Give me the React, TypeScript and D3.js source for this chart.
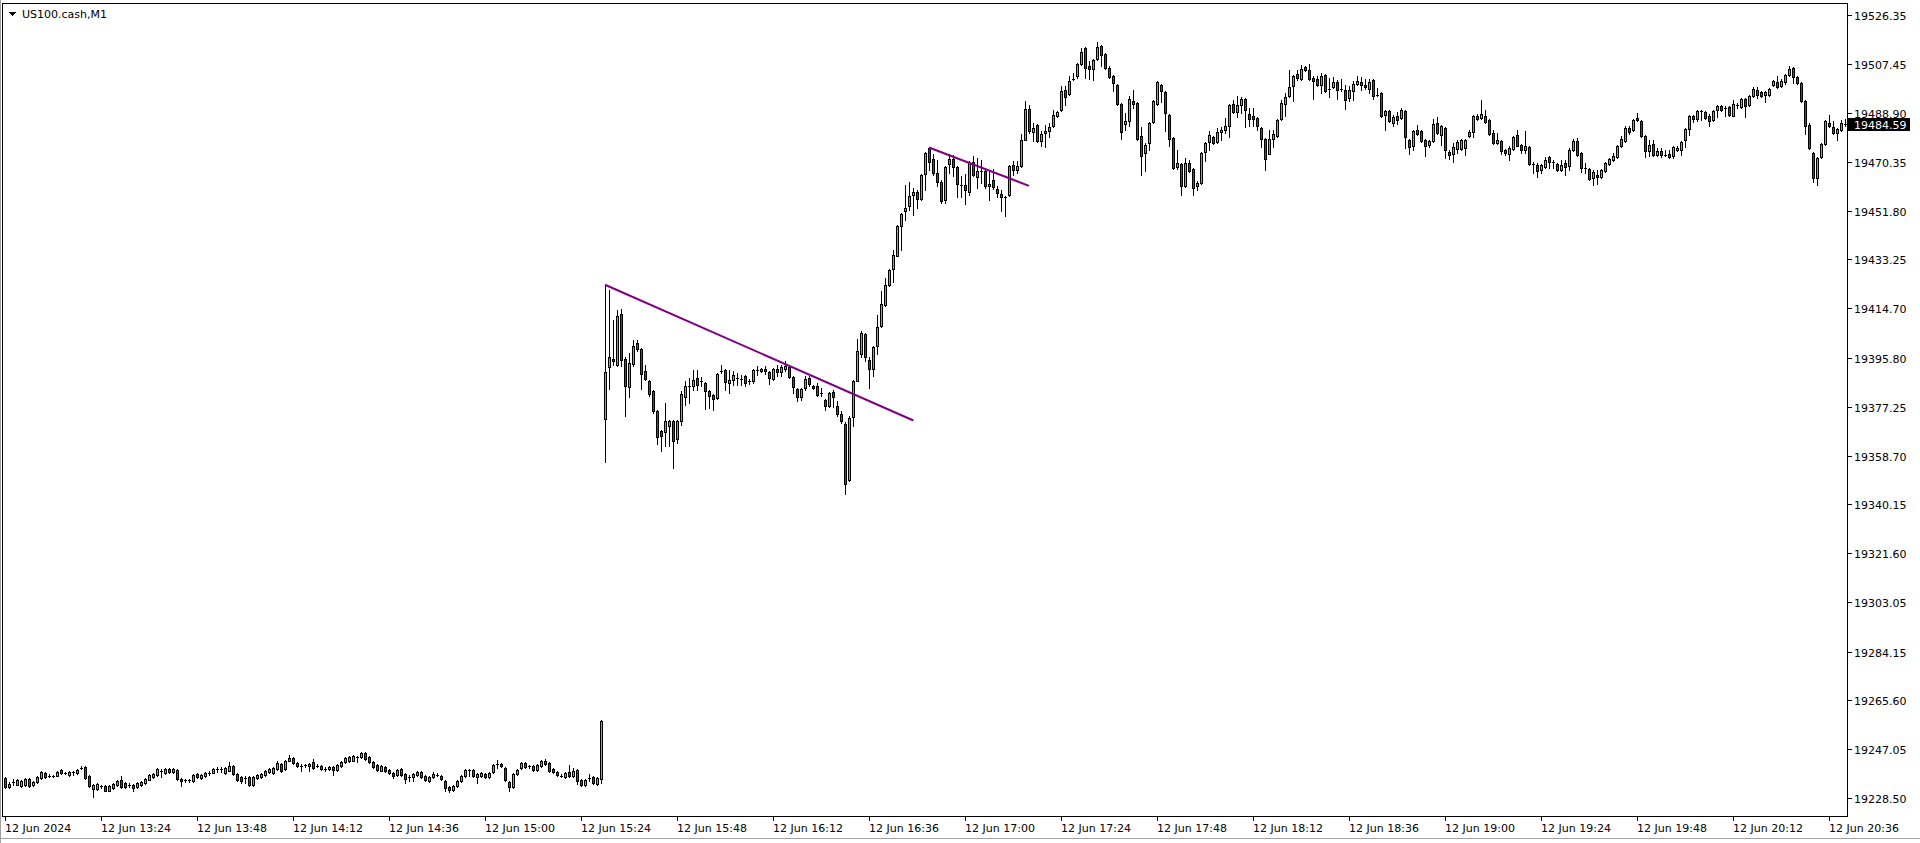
import React from 'react';
import * as d3 from 'd3';

type Bar = [number, number, number, number]; // open, high, low, close

const chartTitle = 'US100.cash,M1';
const lastPrice = 19484.59;

const priceTicks = [19526.35, 19507.45, 19488.9, 19470.35, 19451.8, 19433.25, 19414.7, 19395.8, 19377.25, 19358.7, 19340.15, 19321.6, 19303.05, 19284.15, 19265.6, 19247.05, 19228.5];

const timeLabels = ['12 Jun 2024', '12 Jun 13:24', '12 Jun 13:48', '12 Jun 14:12', '12 Jun 14:36', '12 Jun 15:00', '12 Jun 15:24', '12 Jun 15:48', '12 Jun 16:12', '12 Jun 16:36', '12 Jun 17:00', '12 Jun 17:24', '12 Jun 17:48', '12 Jun 18:12', '12 Jun 18:36', '12 Jun 19:00', '12 Jun 19:24', '12 Jun 19:48', '12 Jun 20:12', '12 Jun 20:36'];
const barsPerLabel = 24;

// 13:00 - 14:16
const earlyBars: Bar[] = [
  [19236.1,19236.6,19232.3,19232.6],[19232.8,19234.6,19232.3,19233.8],[19234.5,19235.7,19233.6,19234.3],[19233.6,19235.6,19233.3,19235.2],
  [19232.9,19235.2,19232.7,19234.8],[19233.3,19236.0,19232.9,19235.6],[19235.6,19236.0,19232.8,19233.1],[19233.3,19235.0,19232.9,19234.6],
  [19234.6,19236.7,19234.2,19236.4],[19236.1,19238.6,19235.8,19238.3],[19238.0,19238.4,19236.2,19236.6],[19236.9,19237.5,19236.5,19237.0],
  [19236.7,19237.2,19236.4,19236.9],[19237.0,19238.9,19236.7,19238.4],[19239.3,19239.6,19237.7,19238.1],[19238.0,19238.5,19237.6,19238.1],
  [19237.4,19238.6,19237.0,19238.4],[19238.3,19238.9,19237.4,19238.3],[19238.0,19239.6,19237.7,19239.3],[19239.9,19240.5,19239.5,19239.8],
  [19240.3,19240.7,19235.8,19236.1],[19236.7,19237.1,19232.6,19232.9],[19231.9,19234.0,19228.9,19233.6],[19231.9,19234.2,19231.7,19233.8],
  [19232.9,19233.6,19232.3,19232.8],[19232.9,19233.3,19231.0,19231.3],[19231.3,19233.6,19231.0,19233.2],[19232.3,19234.2,19232.0,19233.8],
  [19233.3,19235.5,19232.9,19235.1],[19235.5,19237.0,19232.3,19232.6],[19234.1,19234.5,19232.3,19232.7],[19233.6,19234.1,19232.8,19233.4],
  [19233.6,19234.0,19231.0,19232.3],[19232.6,19234.5,19232.3,19234.1],[19233.3,19234.8,19233.1,19234.5],[19234.2,19236.1,19234.0,19235.7],
  [19235.5,19237.6,19235.2,19237.2],[19236.4,19238.0,19236.1,19237.6],[19237.1,19239.9,19236.9,19239.4],[19238.6,19239.5,19236.6,19238.5],
  [19238.0,19239.9,19237.6,19239.5],[19239.6,19240.0,19237.9,19238.3],[19238.4,19240.0,19238.1,19239.6],[19239.1,19239.5,19235.5,19235.8],
  [19235.8,19236.2,19232.9,19235.1],[19235.3,19235.8,19234.7,19235.2],[19235.3,19235.8,19234.7,19235.2],[19234.8,19237.7,19234.6,19237.4],
  [19237.6,19238.0,19236.0,19236.4],[19236.1,19237.6,19235.8,19237.2],[19236.7,19238.4,19236.5,19238.0],[19237.7,19238.6,19237.4,19237.9],
  [19238.1,19239.8,19237.9,19239.4],[19239.5,19240.2,19238.3,19239.6],[19239.5,19240.2,19238.3,19239.6],[19238.0,19240.3,19237.7,19239.9],
  [19238.9,19242.3,19238.6,19240.8],[19240.7,19241.0,19237.4,19237.6],[19237.6,19238.0,19234.8,19235.3],[19236.4,19236.7,19234.2,19234.8],
  [19236.1,19236.7,19234.2,19236.0],[19236.4,19236.7,19232.9,19233.3],[19233.3,19237.0,19232.9,19236.6],[19236.1,19237.7,19235.8,19237.4],
  [19236.5,19238.1,19236.2,19237.7],[19237.1,19239.3,19236.9,19238.9],[19238.3,19239.8,19237.9,19239.4],[19238.0,19240.3,19237.7,19239.9],
  [19239.4,19242.4,19239.1,19241.8],[19241.4,19241.8,19238.5,19238.9],[19239.4,19242.9,19239.1,19242.4],[19242.7,19245.0,19242.4,19243.7],
  [19243.7,19244.1,19241.6,19241.8],[19241.8,19242.2,19240.3,19240.5],[19240.5,19241.4,19238.6,19240.4],[19240.5,19241.4,19240.3,19241.2],
  [19240.5,19241.7,19238.6,19241.4],
];

// 14:17 - 15:29
const preOpenBars: Bar[] = [
  [19242.2,19243.4,19239.6,19239.9],[19240.8,19241.4,19240.2,19240.7],[19240.8,19241.2,19239.1,19239.5],[19239.6,19240.2,19238.6,19239.6],
  [19239.6,19240.8,19239.3,19240.4],[19240.2,19240.5,19237.1,19239.3],[19239.1,19241.3,19238.8,19240.9],[19240.7,19242.6,19240.3,19242.2],
  [19242.2,19244.1,19241.8,19243.7],[19242.4,19244.3,19242.0,19243.9],[19242.7,19245.0,19242.4,19244.3],[19243.9,19244.3,19242.2,19244.1],
  [19244.2,19246.1,19243.8,19245.7],[19245.6,19246.0,19243.1,19243.4],[19243.9,19244.3,19241.8,19242.2],[19242.3,19242.7,19240.0,19240.4],
  [19241.2,19241.5,19238.8,19239.1],[19238.9,19240.9,19238.6,19240.5],[19240.2,19240.5,19238.2,19238.6],[19239.3,19239.6,19237.6,19238.0],
  [19238.0,19238.4,19236.1,19236.7],[19237.4,19239.6,19237.0,19239.3],[19239.6,19240.0,19237.0,19237.4],[19237.7,19238.1,19234.2,19235.8],
  [19236.4,19237.1,19235.1,19236.4],[19236.4,19238.0,19235.1,19237.6],[19237.4,19238.8,19237.0,19238.4],[19238.2,19238.6,19236.0,19236.4],
  [19236.9,19237.2,19235.0,19235.3],[19235.1,19236.7,19234.7,19236.4],[19236.4,19238.2,19236.0,19237.7],[19237.4,19237.9,19237.0,19237.4],
  [19236.7,19237.1,19235.2,19235.6],[19235.1,19235.5,19231.3,19232.3],[19232.6,19232.9,19230.8,19231.4],[19231.7,19233.6,19231.3,19233.2],
  [19233.2,19235.5,19232.8,19235.1],[19235.1,19237.4,19234.7,19237.0],[19237.0,19239.5,19236.6,19239.1],[19239.1,19239.5,19237.0,19239.1],
  [19239.1,19239.5,19236.4,19236.7],[19236.4,19238.1,19234.2,19237.7],[19236.7,19238.4,19236.4,19238.0],[19237.6,19238.0,19236.1,19236.5],
  [19236.6,19238.5,19236.2,19238.1],[19238.2,19241.4,19237.9,19241.0],[19241.4,19243.1,19239.9,19241.4],[19241.5,19241.9,19240.2,19240.5],
  [19239.9,19240.3,19235.1,19235.5],[19234.6,19235.0,19231.0,19232.6],[19232.6,19238.0,19232.2,19237.6],[19237.5,19239.6,19237.1,19239.3],
  [19239.9,19242.2,19239.5,19241.8],[19241.8,19242.2,19240.0,19240.4],[19240.7,19241.0,19239.9,19240.7],[19240.7,19241.0,19238.8,19239.1],
  [19239.1,19241.5,19238.8,19241.2],[19240.5,19243.1,19240.2,19242.7],[19242.7,19243.4,19241.0,19241.4],[19241.8,19242.2,19238.5,19238.9],
  [19239.6,19240.0,19237.9,19238.2],[19238.5,19238.9,19236.7,19237.1],[19237.0,19237.5,19236.4,19237.0],[19236.4,19238.4,19236.0,19238.0],
  [19238.4,19241.2,19236.6,19237.0],[19236.7,19239.9,19236.4,19238.6],[19239.1,19239.5,19233.8,19235.1],[19235.5,19235.8,19233.2,19233.6],
  [19233.6,19235.7,19233.2,19235.3],[19236.1,19237.6,19234.8,19236.1],[19236.4,19236.7,19233.8,19234.2],[19234.0,19236.5,19233.6,19236.1],
  [19235.7,19258.3,19234.1,19257.9],
];

// 15:30 - 16:41
const openingBars: Bar[] = [
  [19372.6,19423.6,19356.1,19390.4],[19392.3,19421.5,19384.0,19396.1],[19395.4,19410.3,19393.2,19394.5],[19393.0,19414.1,19392.6,19411.8],
  [19412.6,19414.4,19392.6,19395.1],[19395.4,19396.1,19373.6,19385.0],[19384.7,19397.6,19380.8,19393.8],[19393.5,19402.7,19392.6,19400.4],
  [19401.4,19402.5,19398.3,19399.2],[19399.2,19399.5,19384.0,19389.8],[19390.7,19393.2,19387.5,19387.8],[19387.1,19387.5,19381.2,19382.1],
  [19383.3,19383.7,19374.8,19375.5],[19375.7,19376.1,19363.2,19365.7],[19368.1,19368.5,19360.3,19366.0],[19367.6,19378.6,19362.2,19371.9],
  [19370.1,19372.3,19362.2,19371.9],[19371.7,19372.3,19353.9,19364.1],[19365.0,19372.3,19363.4,19371.9],[19371.7,19383.1,19370.4,19382.1],
  [19380.9,19387.1,19378.0,19385.2],[19385.1,19388.1,19378.6,19385.1],[19385.3,19391.3,19383.7,19387.5],[19388.1,19391.3,19383.7,19385.6],
  [19386.9,19388.5,19385.0,19386.8],[19386.2,19386.6,19376.4,19383.1],[19383.3,19383.7,19376.7,19381.5],[19381.8,19382.2,19376.1,19380.2],
  [19380.5,19390.0,19380.2,19389.7],[19390.7,19393.2,19390.0,19390.5],[19391.3,19391.7,19383.7,19386.7],[19386.2,19391.3,19382.4,19387.5],
  [19387.5,19390.7,19385.6,19389.3],[19388.1,19390.0,19385.6,19388.0],[19387.9,19389.4,19385.6,19387.8],[19388.8,19389.4,19385.2,19386.2],
  [19387.1,19387.8,19386.0,19386.5],[19386.9,19391.6,19386.2,19391.3],[19391.1,19392.6,19389.4,19391.0],[19390.8,19391.9,19390.3,19391.6],
  [19391.4,19392.6,19389.8,19390.7],[19390.3,19390.7,19385.9,19388.1],[19387.8,19391.9,19387.5,19391.6],[19391.6,19393.2,19388.8,19390.4],
  [19390.3,19393.2,19389.0,19392.2],[19391.6,19394.5,19390.7,19392.6],[19392.3,19392.7,19388.1,19388.5],[19388.5,19388.9,19382.4,19384.6],
  [19384.1,19384.5,19379.3,19380.8],[19380.8,19384.3,19379.9,19384.0],[19384.3,19388.8,19383.7,19387.9],[19388.3,19388.8,19385.0,19385.9],
  [19385.2,19385.6,19384.0,19384.3],[19385.0,19386.2,19381.4,19381.8],[19382.5,19384.3,19381.4,19382.4],[19379.9,19380.3,19376.1,19377.6],
  [19377.4,19382.8,19377.0,19382.4],[19382.8,19383.7,19377.1,19380.8],[19377.4,19379.3,19373.6,19374.5],[19374.5,19375.5,19371.0,19371.7],
  [19370.8,19371.3,19344.2,19347.8],[19349.5,19373.6,19349.1,19372.9],[19373.3,19387.5,19369.8,19387.2],[19387.1,19403.0,19386.9,19398.5],
  [19397.1,19405.9,19396.1,19405.2],[19404.9,19405.2,19394.5,19396.1],[19395.1,19396.1,19384.3,19391.7],[19391.7,19400.4,19388.8,19399.8],
  [19400.4,19412.2,19397.4,19407.5],[19407.8,19421.1,19407.5,19416.3],[19416.0,19426.1,19415.6,19423.6],[19423.6,19429.6,19423.2,19429.3],
];

// 16:42 - 18:03
const rallyBars: Bar[] = [
  [19429.6,19436.9,19424.5,19435.0],[19434.6,19446.4,19434.4,19446.0],[19446.0,19450.9,19436.7,19450.5],[19451.5,19461.6,19448.3,19452.8],
  [19453.4,19462.6,19452.1,19457.2],[19457.6,19460.4,19450.2,19458.8],[19458.8,19459.5,19452.8,19456.2],[19456.2,19465.8,19455.9,19465.4],
  [19465.8,19474.0,19459.7,19473.7],[19475.6,19475.9,19467.3,19470.2],[19471.5,19473.4,19465.4,19466.1],[19466.1,19470.9,19461.0,19462.6],
  [19462.6,19463.5,19454.7,19455.3],[19455.7,19468.6,19454.7,19468.2],[19469.5,19473.4,19466.1,19471.5],[19471.5,19473.0,19464.8,19468.2],
  [19468.3,19468.9,19456.9,19462.0],[19461.7,19464.8,19456.9,19461.6],[19461.6,19465.8,19454.4,19459.7],[19458.8,19470.5,19457.8,19469.9],
  [19470.1,19472.7,19464.8,19465.2],[19464.4,19471.8,19460.4,19467.0],[19466.9,19471.1,19462.3,19466.7],[19466.7,19468.0,19460.4,19461.0],
  [19461.0,19466.7,19455.9,19461.9],[19463.5,19467.6,19460.0,19460.7],[19460.0,19461.0,19456.9,19458.5],[19458.2,19459.7,19451.5,19456.9],
  [19456.9,19457.4,19449.6,19456.6],[19457.6,19469.2,19457.2,19468.9],[19469.2,19470.5,19465.4,19467.3],[19467.1,19470.5,19466.1,19468.6],
  [19468.6,19481.0,19468.3,19478.7],[19478.7,19493.3,19478.5,19490.4],[19490.4,19492.0,19481.3,19481.9],[19481.6,19485.1,19478.1,19483.2],
  [19484.2,19484.7,19477.7,19478.1],[19478.4,19481.9,19476.5,19481.0],[19481.3,19484.4,19475.9,19482.2],[19481.9,19485.1,19479.7,19483.4],
  [19483.8,19490.1,19483.5,19488.2],[19487.6,19489.7,19487.2,19489.2],[19489.9,19499.3,19489.6,19497.1],[19497.7,19499.3,19492.0,19494.9],
  [19496.0,19502.8,19495.6,19501.2],[19501.6,19504.1,19501.3,19501.9],[19502.8,19507.9,19502.4,19507.5],[19507.5,19513.6,19507.1,19512.1],
  [19513.6,19514.0,19502.2,19506.0],[19506.9,19508.5,19501.9,19505.6],[19505.6,19509.4,19501.3,19509.1],[19509.4,19515.9,19508.9,19514.0],
  [19514.5,19514.8,19506.9,19511.0],[19511.4,19511.9,19505.6,19506.0],[19506.2,19506.6,19502.2,19502.5],[19502.8,19503.2,19497.1,19500.3],
  [19499.6,19500.0,19492.0,19492.4],[19492.4,19492.8,19479.0,19481.5],[19484.7,19488.9,19482.5,19486.0],[19485.7,19495.2,19483.8,19494.2],
  [19493.6,19497.7,19490.8,19492.4],[19492.7,19493.1,19478.5,19479.0],[19480.0,19483.5,19465.4,19472.4],[19473.7,19477.5,19466.7,19476.8],
  [19477.5,19485.4,19474.7,19485.1],[19485.3,19493.7,19485.1,19493.3],[19492.4,19500.9,19492.0,19500.5],[19499.6,19500.0,19492.9,19497.1],
  [19496.9,19497.2,19482.2,19488.9],[19488.2,19488.6,19476.2,19479.0],[19479.4,19479.7,19467.6,19468.0],[19468.2,19474.7,19467.8,19469.9],
  [19469.6,19470.0,19457.8,19461.2],[19461.0,19471.8,19460.6,19469.9],[19469.9,19471.1,19466.3,19466.7],[19467.6,19468.0,19457.8,19460.4],
  [19461.0,19462.9,19459.5,19462.3],[19462.3,19474.0,19461.9,19473.7],[19473.9,19477.8,19470.5,19477.5],[19477.7,19481.9,19474.9,19480.6],
  [19479.7,19480.3,19477.1,19477.5],[19477.7,19483.2,19477.5,19481.5],
];

// 18:04 - 20:40
const eveningBars: Bar[] = [
  [19481.5,19483.5,19478.7,19482.3],[19482.3,19487.0,19481.3,19484.1],[19483.8,19492.3,19479.6,19492.0],[19492.4,19493.9,19488.9,19489.4],
  [19489.1,19495.2,19487.4,19492.0],[19491.8,19495.0,19488.9,19494.3],[19494.3,19494.6,19483.4,19489.9],[19488.5,19490.8,19484.1,19486.7],
  [19487.9,19490.8,19484.1,19486.7],[19487.0,19487.4,19482.3,19483.8],[19483.2,19483.5,19475.9,19479.0],[19479.0,19479.4,19467.1,19471.4],
  [19473.5,19482.5,19473.3,19479.1],[19479.2,19482.5,19475.9,19480.9],[19480.0,19486.7,19479.8,19486.3],[19486.6,19493.9,19486.3,19492.7],
  [19492.4,19496.5,19487.6,19495.0],[19495.2,19505.3,19495.0,19498.9],[19499.0,19503.4,19493.3,19503.1],[19503.8,19505.3,19501.5,19502.4],
  [19501.8,19507.2,19501.5,19505.6],[19506.4,19506.9,19504.7,19505.1],[19505.3,19507.6,19501.5,19501.8],[19502.2,19503.1,19494.2,19500.9],
  [19501.8,19503.1,19499.3,19499.6],[19499.6,19504.1,19496.5,19503.1],[19503.4,19503.8,19496.7,19497.1],[19497.8,19502.2,19495.0,19498.1],
  [19498.8,19502.6,19498.4,19500.7],[19500.7,19501.3,19494.2,19497.7],[19497.7,19501.8,19497.1,19498.1],[19497.7,19499.6,19490.4,19493.9],
  [19494.6,19499.0,19493.3,19497.7],[19497.1,19500.9,19493.9,19500.0],[19499.9,19503.1,19499.5,19501.2],[19500.7,19502.6,19497.5,19499.6],
  [19499.6,19501.8,19498.2,19498.6],[19498.0,19501.8,19496.5,19500.5],[19501.3,19501.7,19494.2,19495.2],[19495.2,19498.4,19495.2,19495.8],
  [19496.5,19496.9,19487.2,19487.6],[19488.0,19490.1,19482.3,19489.8],[19489.8,19490.1,19485.3,19485.7],[19485.1,19488.2,19483.8,19487.4],
  [19487.9,19489.1,19484.7,19486.3],[19487.0,19490.8,19486.6,19490.1],[19489.8,19490.1,19475.6,19479.6],[19478.7,19479.1,19473.3,19475.9],
  [19476.2,19482.5,19474.9,19482.2],[19482.5,19484.4,19480.4,19480.9],[19482.2,19482.5,19477.7,19478.1],[19478.5,19479.0,19472.7,19476.5],
  [19476.8,19478.7,19475.9,19478.1],[19478.1,19486.6,19477.7,19484.8],[19485.1,19487.4,19480.9,19481.3],[19480.4,19484.4,19476.8,19484.1],
  [19483.2,19483.5,19471.8,19474.7],[19474.0,19474.9,19471.5,19472.8],[19473.3,19477.5,19470.1,19475.9],[19475.2,19478.7,19473.7,19477.7],
  [19475.3,19479.1,19474.9,19478.7],[19475.6,19479.1,19473.0,19478.7],[19480.0,19482.5,19479.6,19481.6],[19481.6,19488.2,19479.6,19487.9],
  [19487.9,19488.6,19486.3,19486.8],[19487.0,19493.9,19486.6,19488.6],[19487.9,19490.1,19485.1,19485.4],[19486.3,19486.7,19480.6,19480.9],
  [19481.3,19482.5,19477.1,19477.5],[19477.5,19481.3,19477.1,19478.7],[19478.1,19478.5,19473.4,19474.3],[19474.9,19475.3,19473.0,19473.7],
  [19473.3,19476.2,19471.1,19475.6],[19475.2,19480.3,19474.9,19479.8],[19480.6,19482.5,19476.2,19476.5],[19476.8,19477.2,19473.7,19474.7],
  [19474.9,19481.9,19473.7,19476.5],[19475.9,19476.5,19469.2,19469.5],[19469.4,19470.1,19466.1,19469.0],[19469.2,19469.9,19464.5,19466.7],
  [19467.1,19469.6,19466.1,19469.2],[19468.3,19472.1,19468.0,19471.1],[19472.0,19472.7,19468.0,19470.2],[19470.2,19471.1,19468.0,19470.0],
  [19469.6,19470.0,19466.7,19467.3],[19467.3,19471.1,19466.7,19469.0],[19469.9,19471.1,19465.4,19468.3],[19468.6,19475.6,19467.3,19474.9],
  [19474.7,19479.0,19474.3,19478.1],[19478.4,19479.4,19472.7,19473.0],[19473.7,19474.0,19466.3,19468.0],[19468.0,19469.9,19466.1,19467.8],
  [19467.6,19468.0,19463.5,19463.8],[19464.2,19467.1,19461.6,19466.3],[19465.4,19467.3,19462.0,19464.5],[19464.5,19467.6,19464.2,19467.3],
  [19466.7,19470.2,19466.3,19469.9],[19469.5,19471.8,19469.1,19471.4],[19470.9,19473.7,19470.5,19472.4],[19472.1,19476.8,19471.8,19476.5],
  [19476.2,19480.0,19475.8,19479.0],[19478.1,19484.1,19477.7,19483.2],[19483.2,19484.1,19481.1,19481.5],[19482.5,19486.7,19482.2,19486.3],
  [19487.0,19488.9,19485.7,19486.1],[19486.0,19486.3,19479.6,19480.0],[19480.3,19480.6,19472.1,19474.3],[19474.3,19478.7,19472.4,19476.8],
  [19477.1,19478.7,19472.4,19472.8],[19473.0,19475.6,19472.4,19474.6],[19474.6,19475.6,19472.1,19472.8],[19472.8,19474.9,19472.4,19473.0],
  [19473.3,19474.9,19471.8,19472.0],[19472.4,19476.2,19471.8,19475.8],[19474.7,19476.5,19474.3,19475.6],[19474.7,19478.1,19473.0,19477.7],
  [19478.5,19483.2,19475.9,19482.8],[19482.8,19488.2,19480.6,19487.9],[19487.9,19488.2,19485.3,19486.6],[19486.6,19490.1,19485.7,19489.8],
  [19489.8,19490.1,19486.3,19489.4],[19489.1,19489.5,19486.6,19487.0],[19487.6,19488.6,19484.1,19485.7],[19486.3,19489.9,19486.0,19489.5],
  [19489.9,19492.0,19487.4,19491.7],[19491.4,19491.8,19489.5,19489.9],[19490.6,19491.4,19487.6,19490.8],[19491.0,19491.4,19487.9,19488.2],
  [19487.9,19493.9,19487.6,19492.3],[19492.0,19492.7,19490.8,19491.9],[19491.2,19494.7,19490.8,19494.3],[19494.3,19494.7,19487.4,19491.7],
  [19492.0,19495.6,19491.7,19495.2],[19495.2,19498.6,19494.8,19498.1],[19497.7,19498.6,19494.6,19495.8],[19496.7,19497.1,19494.8,19495.2],
  [19495.6,19497.1,19492.9,19496.7],[19495.8,19498.4,19495.5,19498.0],[19499.4,19501.3,19499.0,19500.9],[19500.5,19503.1,19498.4,19498.8],
  [19499.0,19501.8,19498.6,19500.9],[19500.5,19503.8,19500.1,19503.4],[19503.4,19506.9,19503.1,19505.6],[19506.0,19506.4,19500.3,19502.6],
  [19502.6,19502.9,19499.9,19500.3],[19500.3,19500.7,19492.9,19493.3],[19493.6,19493.9,19480.9,19483.8],[19484.4,19485.1,19475.2,19475.6],
  [19473.7,19474.0,19462.5,19464.2],[19464.2,19472.1,19461.4,19471.8],[19472.1,19477.5,19471.8,19477.1],[19477.1,19486.3,19476.7,19486.0],
  [19485.1,19488.2,19483.4,19483.8],[19483.5,19485.7,19480.9,19481.3],[19481.3,19483.2,19478.7,19482.8],[19482.3,19486.3,19481.9,19485.1],
  [19484.7,19486.6,19484.1,19484.59],
];

// trend lines drawn on the chart: anchor bar index and price
const trendLineA = [{ bar: 150, price: 19423.6 }, { bar: 227.1, price: 19372.0 }];
const trendLineB = [{ bar: 231, price: 19475.8 }, { bar: 256, price: 19461.2 }];

const bullColor = '#00ff00';
const bearColor = '#ff0000';
const lineColor = '#800080';

const W = 1920;
const H = 843;
const plotL = 2;
const plotT = 3;
const plotR = 1847;
const plotB = 816;

export default function App() {
  const bars: Bar[] = [...earlyBars, ...preOpenBars, ...openingBars, ...rallyBars, ...eveningBars];
  const x = d3.scaleLinear().domain([0, barsPerLabel * (timeLabels.length - 1)]).range([5, 1829]);
  const y = d3.scaleLinear().domain([19228.5, 19526.35]).range([798, 14.5]);
  const fontFamily = '"DejaVu Sans", Tahoma, sans-serif';
  const lineGen = d3
    .line<{ bar: number; price: number }>()
    .x((d) => x(d.bar))
    .y((d) => y(d.price));

  const candles = bars.map((b, i) => {
    const [o, h, l, c] = b;
    const cx = Math.round(x(i));
    const yH = Math.round(y(h));
    const yL = Math.round(y(l));
    const yO = Math.round(y(o));
    const yC = Math.round(y(c));
    const top = Math.min(yO, yC);
    const bot = Math.max(yO, yC);
    const fill = c >= o ? bullColor : bearColor;
    return (
      <g key={i}>
        <line x1={cx + 0.5} x2={cx + 0.5} y1={yH} y2={yL + 1} stroke="#000" strokeWidth={1} />
        {bot - top < 2 ? (
          <line x1={cx - 1} x2={cx + 2} y1={top + 0.5} y2={top + 0.5} stroke="#000" strokeWidth={1} />
        ) : (
          <rect x={cx - 0.5} y={top + 0.5} width={2} height={bot - top} fill={fill} stroke="#000" strokeWidth={1} />
        )}
      </g>
    );
  });

  const lastY = y(lastPrice);

  return (
    <svg
      width={W}
      height={H}
      style={{ position: 'absolute', left: 0, top: 0, background: '#fff', display: 'block' }}
      shapeRendering="crispEdges"
    >
      <defs>
        <clipPath id="plotClip">
          <rect x={plotL + 1} y={plotT + 1} width={plotR - plotL - 1} height={plotB - plotT - 1} />
        </clipPath>
      </defs>
      <rect x={0} y={0} width={W} height={H} fill="#fff" />
      {/* window edges */}
      <line x1={0.5} x2={0.5} y1={0} y2={H} stroke="#a0a0a0" />
      <line x1={0} x2={W} y1={838.5} y2={838.5} stroke="#a0a0a0" />
      {/* plot frame */}
      <line x1={plotL + 0.5} x2={plotL + 0.5} y1={plotT} y2={plotB + 1} stroke="#000" />
      <line x1={plotL} x2={plotR + 1} y1={plotT + 0.5} y2={plotT + 0.5} stroke="#000" />
      <line x1={plotR + 0.5} x2={plotR + 0.5} y1={plotT} y2={plotB + 1} stroke="#000" />
      <line x1={plotL} x2={plotR + 1} y1={plotB + 0.5} y2={plotB + 0.5} stroke="#000" />

      <g clipPath="url(#plotClip)">
        {candles}
        <path d={lineGen(trendLineA) || ''} stroke={lineColor} strokeWidth={2} fill="none" shapeRendering="auto" />
        <path d={lineGen(trendLineB) || ''} stroke={lineColor} strokeWidth={2} fill="none" shapeRendering="auto" />
      </g>

      {/* title */}
      <path d="M8,12 L16,12 L12,16 Z" fill="#000" />
      <text x={22} y={18} fontFamily={fontFamily} fontSize={11} fill="#000" shapeRendering="auto">
        {chartTitle}
      </text>

      {/* price axis */}
      {priceTicks.map((p) => {
        const ty = Math.round(y(p));
        return (
          <g key={p}>
            <line x1={plotR + 1} x2={plotR + 5} y1={ty + 0.5} y2={ty + 0.5} stroke="#000" />
            <text x={1854} y={ty + 4.5} fontFamily={fontFamily} fontSize={11} fill="#000">
              {p.toFixed(2)}
            </text>
          </g>
        );
      })}
      <rect x={plotR + 1} y={Math.round(lastY) - 6} width={62} height={13} fill="#000" />
      <text x={1854} y={Math.round(lastY) + 4.5} fontFamily={fontFamily} fontSize={11} fill="#fff">
        {lastPrice.toFixed(2)}
      </text>

      {/* time axis */}
      {timeLabels.map((t, k) => {
        const tx = Math.round(x(k * barsPerLabel));
        return (
          <g key={t}>
            <line x1={tx + 0.5} x2={tx + 0.5} y1={plotB + 1} y2={plotB + 5} stroke="#000" />
            <text x={tx} y={832} fontFamily={fontFamily} fontSize={11} fill="#000">
              {t}
            </text>
          </g>
        );
      })}
    </svg>
  );
}
